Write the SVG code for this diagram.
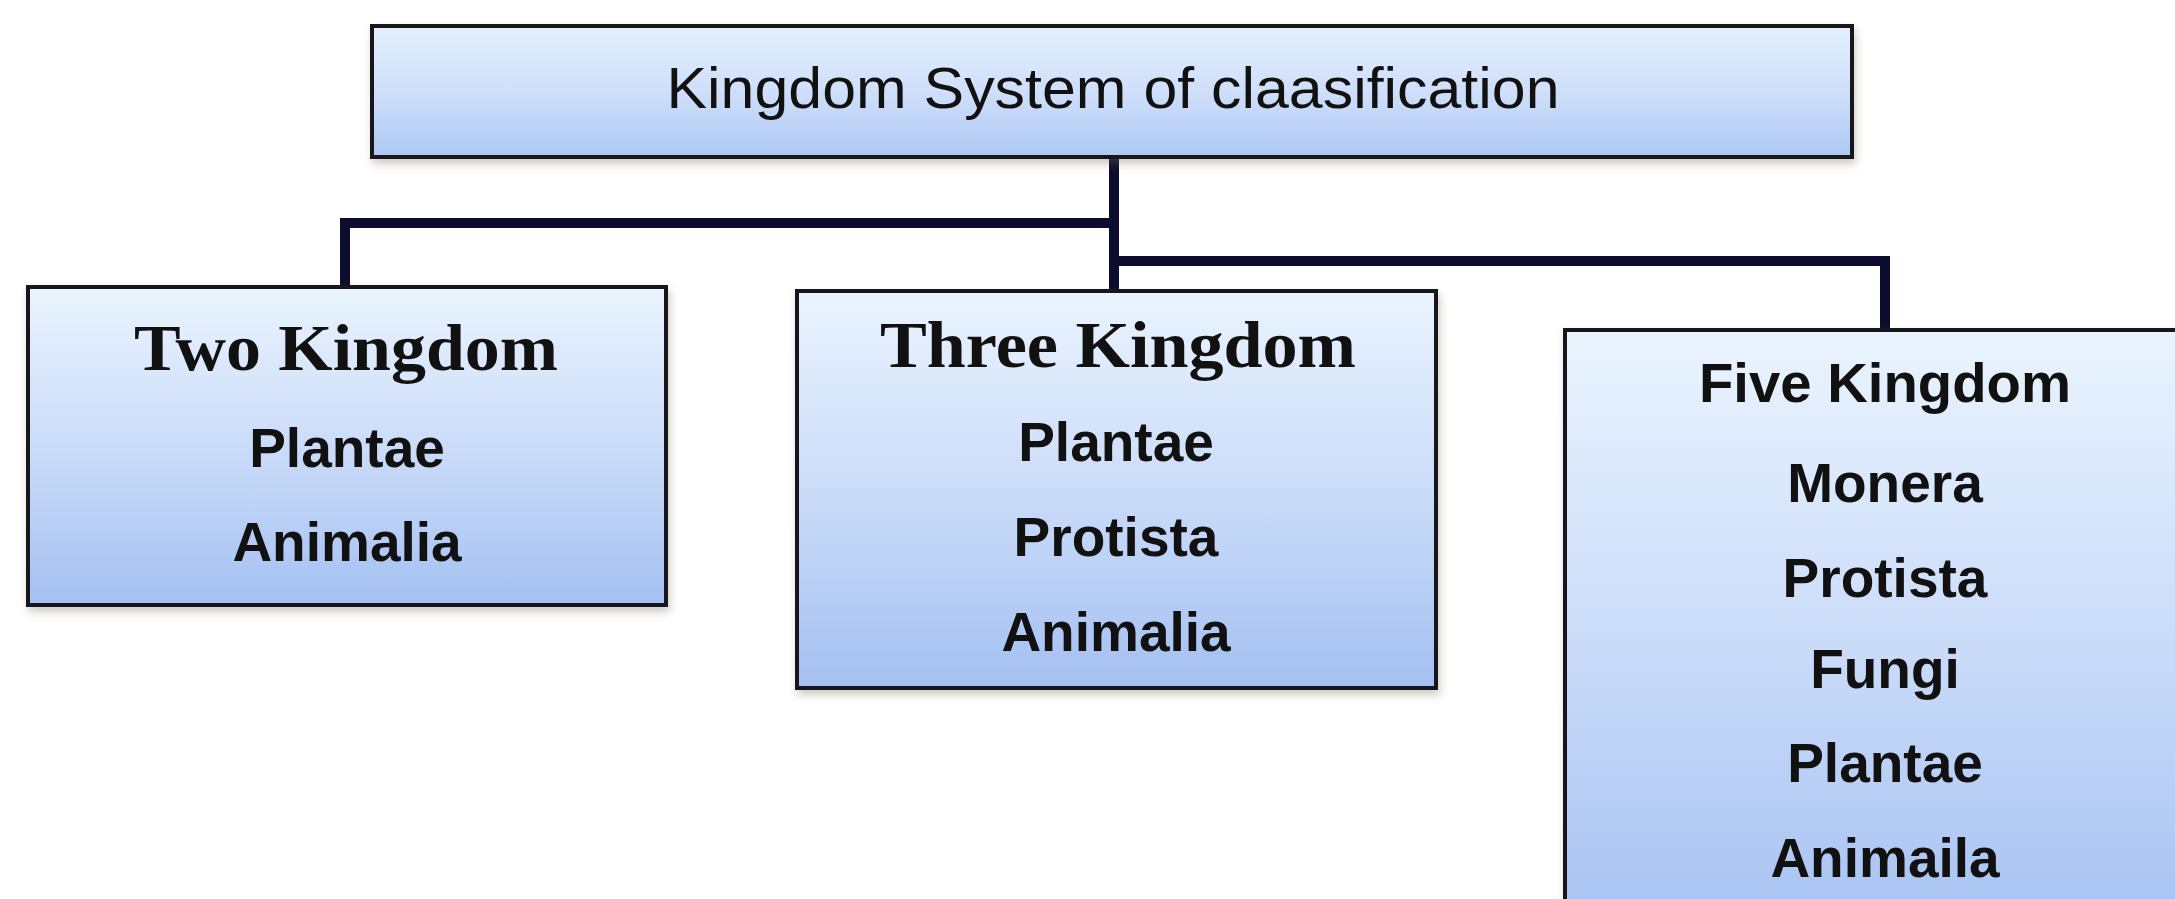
<svg xmlns="http://www.w3.org/2000/svg" width="2175" height="899" viewBox="0 0 2175 899">
  <defs>
    <linearGradient id="boxGrad" x1="0" y1="0" x2="0" y2="1">
      <stop offset="0" stop-color="#eaf4fe"/>
      <stop offset="0.5" stop-color="#cbdcf9"/>
      <stop offset="1" stop-color="#a4c0f1"/>
    </linearGradient>
    <linearGradient id="topGrad" x1="0" y1="0" x2="0" y2="1">
      <stop offset="0" stop-color="#e4f0fd"/>
      <stop offset="0.5" stop-color="#cfdffa"/>
      <stop offset="1" stop-color="#adc8f4"/>
    </linearGradient>
    <filter id="shadow" x="-5%" y="-5%" width="110%" height="120%">
      <feDropShadow dx="2" dy="5" stdDeviation="4" flood-color="#7a6a50" flood-opacity="0.35"/>
    </filter>
  </defs>
  <style>
    .box { fill: url(#boxGrad); stroke: #15151f; stroke-width: 4; filter: url(#shadow); }
    .topbox { fill: url(#topGrad); stroke: #15151f; stroke-width: 4; filter: url(#shadow); }
    .conn { fill: none; stroke: #0c0c2e; stroke-width: 10; stroke-linejoin: miter; stroke-linecap: butt; }
    .title { font-family: "Liberation Sans", Arial, sans-serif; font-size: 58px; fill: #111; text-anchor: middle; }
    .head { font-family: "Liberation Serif", "Times New Roman", serif; font-weight: bold; font-size: 65px; fill: #111; text-anchor: middle; }
    .head2 { font-family: "Liberation Sans", Arial, sans-serif; font-weight: bold; font-size: 56px; fill: #111; text-anchor: middle; }
    .item { font-family: "Liberation Sans", Arial, sans-serif; font-weight: bold; font-size: 55px; fill: #111; text-anchor: middle; }
  </style>
  <rect width="2175" height="899" fill="#ffffff"/>

  <g id="connectors">
    <polyline class="conn" points="345,288 345,223 1114,223"/>
    <line class="conn" x1="1114" y1="157" x2="1114" y2="292"/>
    <polyline class="conn" points="1114,261 1885,261 1885,331"/>
  </g>

  <g id="node-root">
    <rect class="topbox" x="372" y="26" width="1480" height="131"/>
    <text class="title" x="1113" y="108" textLength="893" lengthAdjust="spacingAndGlyphs">Kingdom System of claasification</text>
  </g>

  <g id="node-two">
    <rect class="box" x="28" y="287" width="638" height="318"/>
    <text class="head" x="346" y="370" textLength="424" lengthAdjust="spacingAndGlyphs">Two Kingdom</text>
    <text class="item" x="347" y="467">Plantae</text>
    <text class="item" x="347" y="561">Animalia</text>
  </g>

  <g id="node-three">
    <rect class="box" x="797" y="291" width="639" height="397"/>
    <text class="head" x="1118" y="367" textLength="476" lengthAdjust="spacingAndGlyphs">Three Kingdom</text>
    <text class="item" x="1116" y="461">Plantae</text>
    <text class="item" x="1116" y="556">Protista</text>
    <text class="item" x="1116" y="651">Animalia</text>
  </g>

  <g id="node-five">
    <rect class="box" x="1565" y="330" width="640" height="620"/>
    <text class="head2" x="1885" y="402" textLength="372" lengthAdjust="spacingAndGlyphs">Five Kingdom</text>
    <text class="item" x="1885" y="502">Monera</text>
    <text class="item" x="1885" y="597">Protista</text>
    <text class="item" x="1885" y="688">Fungi</text>
    <text class="item" x="1885" y="782">Plantae</text>
    <text class="item" x="1885" y="877">Animaila</text>
  </g>
</svg>
